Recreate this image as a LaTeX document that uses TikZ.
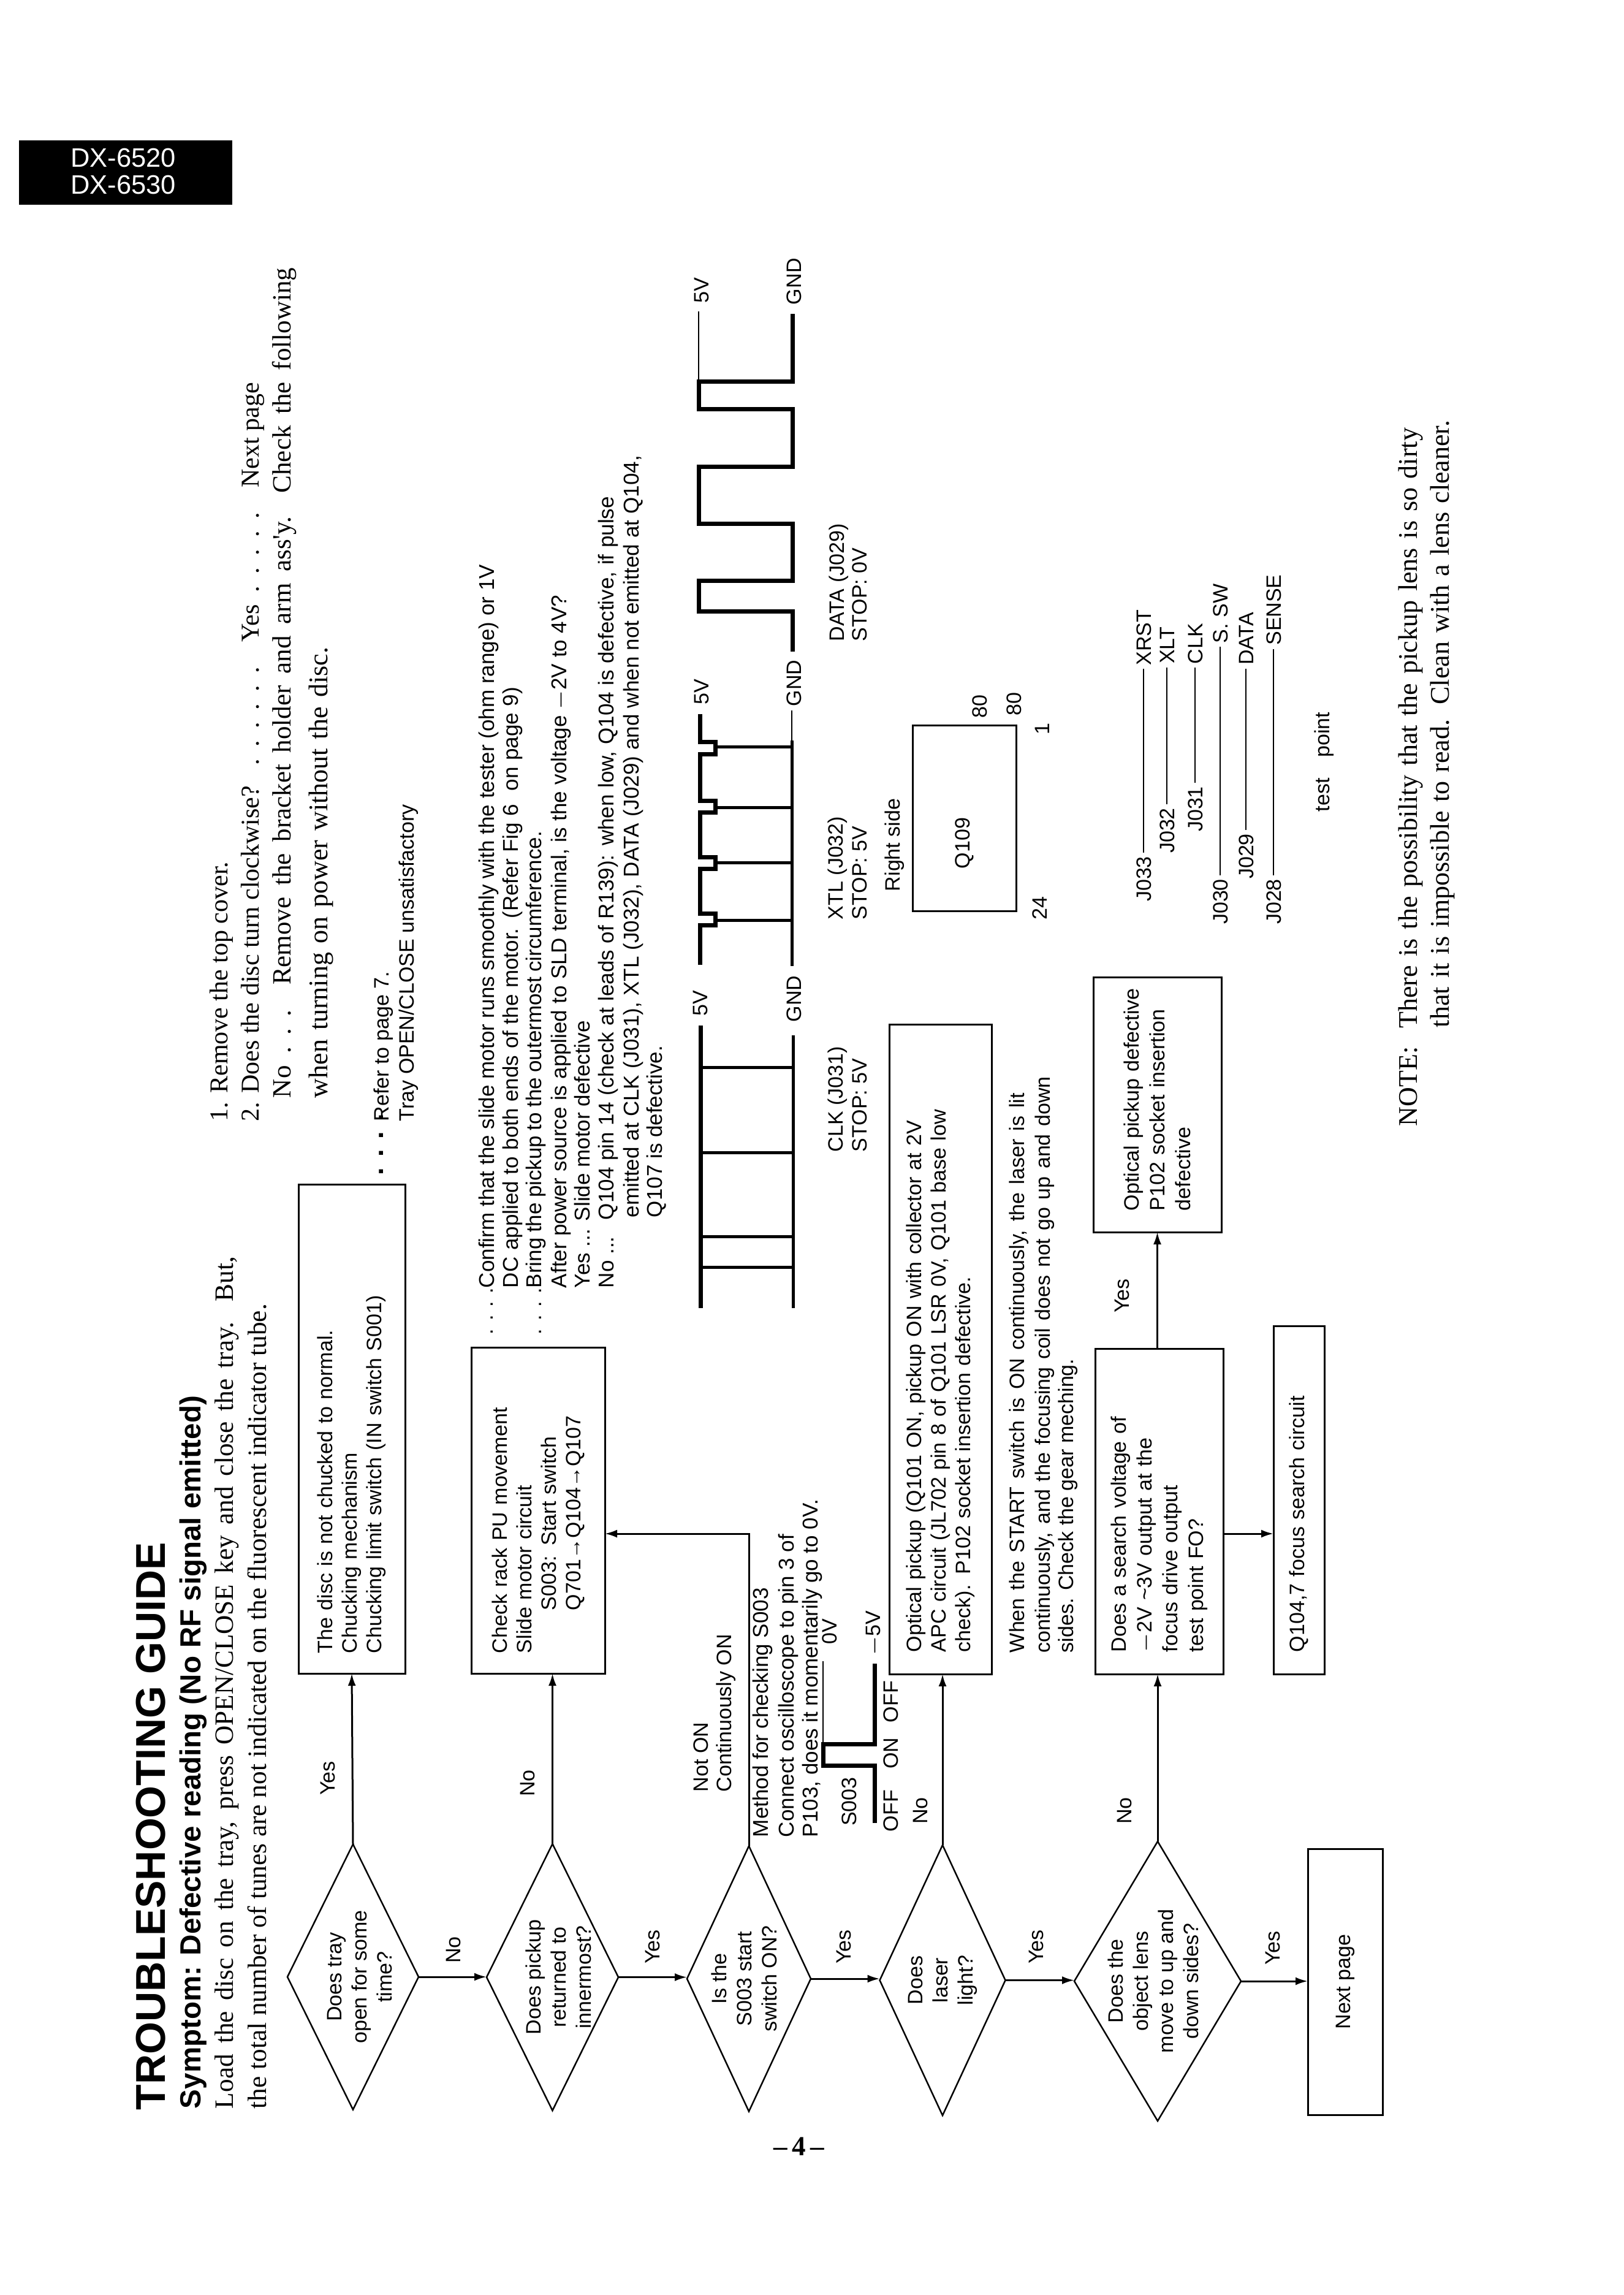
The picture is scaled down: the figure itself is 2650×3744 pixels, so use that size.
\documentclass[tikz,border=0pt]{standalone}
\usepackage{fontspec}
\usetikzlibrary{shapes.geometric,arrows.meta}
\newfontfamily\fsans{Liberation Sans}
\newfontfamily\fserif{Liberation Serif}
% Runs of leader dots of a given length, used in the serif check list
\newcommand{\dotrun}[1]{\hbox to #1{\leaders\hbox to 6pt{\hss.\hss}\hfill}}
\tikzset{
  lbl/.style={rotate=90,anchor=west,inner sep=0pt,text height=4.9pt,text depth=0pt,
    font=\fsans\fontsize{6.8}{8}\selectfont},
  lblwide/.style={lbl,font=\fsans\fontsize{7}{8}\selectfont},
  serifline/.style={rotate=90,anchor=west,inner sep=0pt,text height=5.6pt,text depth=0pt,
    font=\fserif\fontsize{8.8}{10}\selectfont},
  tp/.style={lbl,inner sep=1pt,anchor=center},
  stepbox/.style={draw,rotate=90,line width=.6pt,outer sep=0pt,inner ysep=0pt,align=left,
    font=\fsans\fontsize{6.8}{8}\selectfont},
  decision/.style={draw,diamond,aspect=2,rotate=90,line width=.5pt,outer sep=0pt,inner sep=-5pt,
    align=center,font=\fsans\fontsize{6.8}{8.2}\selectfont},
  arr/.style={line width=.6pt,-{Latex[length=4pt,width=2.6pt]}},
  link/.style={line width=.45pt},
  wavebold/.style={line width=1.4pt,line join=miter},
  wavemid/.style={line width=1pt,line join=miter},
  wavethin/.style={line width=.5pt}
}
\begin{document}
\begin{tikzpicture}[x=0.2pt,y=-0.2pt]
\useasboundingbox (0,0) rectangle (2650,3744);
\fill[white] (0,0) rectangle (2650,3744);

% model plate
\fill[black] (31,229) rectangle (379,334);
\node[inner sep=0pt,anchor=base,text=white,font=\fsans\fontsize{8.7}{10}\selectfont] (modelA) at (201,273) {DX-6520};
\node[inner sep=0pt,anchor=base,text=white,font=\fsans\fontsize{8.7}{10}\selectfont] (modelB) at (201,317) {DX-6530};

% heading block
\node[lbl,text height=9.8pt,font=\fsans\bfseries\fontsize{13.6}{15}\selectfont] (title) at (244.5,3443) {TROUBLESHOOTING GUIDE};
\node[lbl,text height=6.8pt,font=\fsans\bfseries\fontsize{9.5}{11}\selectfont] (symptom) at (310,3441) {Symptom: Defective reading (No RF signal emitted)};
\node[serifline,font=\fserif\fontsize{8.65}{10}\selectfont,text height=5.6pt] (introA) at (366,3441) {\makebox[278pt][s]{Load the disc on the tray, press OPEN/CLOSE key and close the tray. But,}};
\node[serifline,font=\fserif\fontsize{8.65}{10}\selectfont,text height=5.6pt] (introB) at (420,3441) {the total number of tunes are not indicated on the fluorescent indicator tube.};

% serif check list, top right of the page
\node[serifline,font=\fserif\fontsize{8.4}{10}\selectfont] (listA) at (357,1830) {1. Remove the top cover.};
\node[serifline,font=\fserif\fontsize{8.4}{10}\selectfont] (listB) at (408,1830) {\makebox[241pt][l]{2. Does the disc turn clockwise?\hfill\dotrun{40pt}\ Yes \dotrun{34pt}\ Next page}};
\node[serifline,font=\fserif\fontsize{8.6}{10}\selectfont] (listC) at (460,1792) {\makebox[270pt][l]{No \dotrun{22pt}\ \makebox[234pt][s]{Remove the bracket holder and arm ass'y. Check the following}}};
\node[serifline] (listD) at (520,1792) {\makebox[147pt][s]{when turning on power without the disc.}};

% chucking note
\node[lbl] (referDots) at (613,1918) {\bfseries\fontsize{9}{10}\selectfont . . . .};
\node[lbl] (referA) at (622,1830) {Refer to page 7.};
\node[lbl] (referB) at (663,1830) {Tray OPEN/CLOSE unsatisfactory};

% slide motor note
\node[lbl] (confDotsA) at (792,2178) {. . . .};
\node[lbl] (confDotsB) at (871,2178) {. . . .};
\node[lblwide] (confA) at (794,2102) {\makebox[236pt][s]{Confirm that the slide motor runs smoothly with the tester (ohm range) or 1V}};
\node[lblwide] (confB) at (833,2102) {\makebox[196pt][s]{DC applied to both ends of the motor. (Refer Fig 6\ \ on page 9)}};
\node[lblwide] (confC) at (871,2102) {\makebox[149pt][s]{Bring the pickup to the outermost circumference.}};
\node[lblwide] (confD) at (912,2102) {\makebox[226pt][s]{After power source is applied to SLD terminal, is the voltage $-$2V to 4V?}};
\node[lblwide] (confE) at (950,2102) {Yes ... Slide motor defective};
\node[lblwide] (confF) at (989,2102) {No ...};
\node[lblwide] (confG) at (989,1991) {\makebox[236pt][s]{Q104 pin 14 (check at leads of R139): when low, Q104 is defective, if pulse}};
\node[lblwide] (confH) at (1030,1987) {\makebox[248.6pt][s]{emitted at CLK (J031), XTL (J032), DATA (J029) and when not emitted at Q104,}};
\node[lblwide] (confI) at (1068,1987) {Q107 is defective.};

% decisions
\node[decision,minimum width=86.6pt,minimum height=42.8pt] (d1) at (576,3225) {\rule{0pt}{9pt}Does tray\\open for some\\time?};
\node[decision,minimum width=87pt,minimum height=43pt] (d2) at (901.5,3225.5) {\rule{0pt}{9pt}Does pickup\\returned to\\innermost?};
\node[decision,minimum width=86.6pt,minimum height=40.4pt] (d3) at (1222,3228) {Is the\\S003 start\\switch ON?\rule[-3pt]{0pt}{3pt}};
\node[decision,minimum width=88.2pt,minimum height=41pt] (d4) at (1538,3230.5) {Does\\laser\\light?};
\node[decision,minimum width=91.2pt,minimum height=54.4pt] (d5) at (1889,3232) {Does the\\object lens\\move to up and\\down sides?\rule[-3pt]{0pt}{3pt}};

% action boxes
\node[stepbox,minimum width=159.6pt,minimum height=34.8pt,inner xsep=6.6pt,text width=146.4pt] (b1) at (574,2331)
  {The disc is not chucked to normal.\\Chucking mechanism\\Chucking limit switch (IN switch S001)};
\node[stepbox,minimum width=106.4pt,minimum height=43.6pt,inner xsep=6.6pt,text width=93.2pt] (b2) at (878,2464)
  {Check rack PU movement\\Slide motor circuit\\\hspace*{14pt}S003: Start switch\\\hspace*{14pt}Q701→Q104→Q107};
\node[stepbox,minimum width=212pt,minimum height=33.4pt,inner xsep=7.2pt,text width=197.6pt] (b3) at (1534.5,2201)
  {\makebox[192pt][s]{Optical pickup (Q101 ON, pickup ON with collector at 2V}\\\makebox[180.5pt][s]{APC circuit (JL702 pin 8 of Q101 LSR 0V, Q101 base low}\\check). P102 socket insertion defective.};
\node[stepbox,minimum width=106.2pt,minimum height=41.8pt,inner xsep=7.2pt,text width=91.8pt,font=\fsans\fontsize{6.8}{8.4}\selectfont] (b4) at (1891.5,2465.5)
  {Does a search voltage of\\$-$2V \textasciitilde 3V output at the\\focus drive output\\test point FO?};
\node[stepbox,minimum width=113.6pt,minimum height=16.6pt,inner xsep=7.2pt,text width=99.2pt] (b5) at (2119.5,2447)
  {Q104,7 focus search circuit};
\node[stepbox,minimum width=83.2pt,minimum height=41.8pt,inner xsep=7pt,text width=69.2pt,font=\fsans\fontsize{6.8}{8.4}\selectfont] (b6) at (1888.5,1802)
  {\mbox{Optical pickup defective}\\P102 socket insertion\\defective};
\node[stepbox,minimum width=86.8pt,minimum height=24.4pt,align=center] (next) at (2195,3233) {Next page};

% branch labels
\node[lbl,anchor=center] (yesA) at (534,2901) {Yes};
\node[lbl,anchor=center] (noA) at (739,3181) {No};
\node[lbl,anchor=center] (noB) at (860,2909) {No};
\node[lbl,anchor=center] (yesB) at (1064,3176) {Yes};
\node[lbl,anchor=center] (yesC) at (1376,3176) {Yes};
\node[lbl,anchor=center] (noC) at (1501,2954) {No};
\node[lbl,anchor=center] (yesD) at (1690,3176) {Yes};
\node[lbl,anchor=center] (noD) at (1834,2954) {No};
\node[lbl,anchor=center] (yesE) at (2076,3178) {Yes};
\node[lbl,anchor=center] (yesF) at (1830,2114) {Yes};
\node[lbl] (notOnA) at (1143,2924) {Not ON};
\node[lbl] (notOnB) at (1181,2924) {Continuously ON};

% flow connectors
\coordinate (railY) at (0,2502);
\draw[arr] (d1.east) -- (b1.west);
\draw[arr] (d1.south) -- (d2.north |- d1.south);
\draw[arr] (d2.east) -- (d2.east |- b2.west);
\draw[arr] (d2.south) -- (d3.north |- d2.south);
\draw[arr] (d3.east) |- (b2.south |- railY);
\draw[arr] (d3.south) -- (d4.north |- d3.south);
\draw[arr] (d4.east) -- (d4.east |- b3.west);
\draw[arr] (d4.south) -- (d5.north |- d4.south);
\draw[arr] (d5.east) -- (d5.east |- b4.west);
\draw[arr] (d5.south) -- (next.north |- d5.south);
\draw[arr] (b6.west |- b4.east) -- (b6.west);
\draw[arr] (b4.south |- railY) -- (b5.north |- railY);

% S003 check note and its switch trace
\node[lblwide] (methodA) at (1241,2998) {Method for checking S003};
\node[lblwide] (methodB) at (1283,2998) {Connect oscilloscope to pin 3 of};
\node[lblwide] (methodC) at (1322,2998) {P103, does it momentarily go to 0V.};
\node[lbl,anchor=center] (zeroV) at (1353,2662) {0V};
\node[lbl,anchor=center] (minusV) at (1424,2664) {$-$5V};
\node[lbl,anchor=center] (swName) at (1385,2939) {S003};
\node[lbl,anchor=center] (swOffA) at (1453,2954) {OFF};
\node[lbl,anchor=center] (swOn) at (1453,2860) {ON};
\node[lbl,anchor=center] (swOffB) at (1453,2776) {OFF};
\draw[wavebold] (1427,2974) -- (1427,2880) -- (1343,2880) -- (1343,2845) -- (1427,2845) -- (1427,2714);
\draw[wavethin] (1343,2845) -- (1343,2710);

% laser and focus notes
\node[lbl] (startA) at (1659,2697) {\makebox[182.6pt][s]{When the START switch is ON continuously, the laser is lit}};
\node[lbl] (startB) at (1701,2697) {\makebox[188pt][s]{continuously, and the focusing coil does not go up and down}};
\node[lbl] (startC) at (1739,2697) {sides. Check the gear meching.};

% CLK trace
\draw[wavebold] (1143,2134) -- (1143,1673);
\draw[wavemid] (1294,2134) -- (1294,1689);
\foreach \rungY in {2067,2017,1880,1741} \draw[wavemid] (1143,\rungY) -- (1294,\rungY);
\node[lbl] (clkHigh) at (1142,1658) {5V};
\node[lbl] (clkLow) at (1295,1668) {GND};
\node[lbl] (clkName) at (1363,1880) {CLK (J031)};
\node[lbl] (clkStop) at (1402,1880) {STOP: 5V};

% XTL trace: each pulse has a short step before its rung
\draw[wavebold] (1142,1574) -- (1142,1509) -- (1167,1509) -- (1167,1490) -- (1142,1490) -- (1142,1417) -- (1167,1417) -- (1167,1398) -- (1142,1398) -- (1142,1325) -- (1167,1325) -- (1167,1306) -- (1142,1306) -- (1142,1230) -- (1167,1230) -- (1167,1210) -- (1142,1210) -- (1142,1165);
\foreach \rungY in {1501,1407,1317,1218} \draw[wavemid] (1167,\rungY) -- (1292,\rungY);
\draw[wavemid] (1292,1576) -- (1292,1208);
\draw[wavethin] (1292,1208) -- (1292,1159);
\node[lbl] (xtlHigh) at (1144,1150) {5V};
\node[lbl] (xtlLow) at (1295,1153) {GND};
\node[lbl] (xtlName) at (1363,1501) {XTL (J032)};
\node[lbl] (xtlStop) at (1402,1501) {STOP: 5V};

% DATA trace
\draw[wavebold] (1293,1063) -- (1293,997) -- (1140,997) -- (1140,947) -- (1293,947) -- (1293,854) -- (1140,854) -- (1140,761) -- (1293,761) -- (1293,667) -- (1140,667) -- (1140,622) -- (1293,622) -- (1293,512);
\draw[wavethin] (1140,622) -- (1140,508);
\node[lbl] (dataHigh) at (1144,495) {5V};
\node[lbl] (dataLow) at (1295,498) {GND};
\node[lbl] (dataName) at (1365,1047) {DATA (J029)};
\node[lbl] (dataStop) at (1402,1047) {STOP: 0V};

% Q109 outline
\node[lbl] (rightSide) at (1456,1455) {Right side};
\node[stepbox,minimum width=60.6pt,minimum height=33.8pt,inner xsep=13.8pt,text width=33pt] (q109) at (1573.5,1334.5) {Q109};
\node[lbl] (pinA) at (1598,1172) {80};
\node[lbl] (pinB) at (1654,1168) {80};
\node[lbl,anchor=center] (pinC) at (1700,1189) {1};
\node[lbl] (pinD) at (1696,1501) {24};

% test point list
\node[tp] (j33) at (1866,1434) {J033};
\node[tp] (sXRST) at (1866,1040) {XRST};
\node[tp] (j32) at (1904,1355) {J032};
\node[tp] (sXLT) at (1904,1053) {XLT};
\node[tp] (j31) at (1950,1320) {J031};
\node[tp] (sCLK) at (1950,1050) {CLK};
\node[tp] (j30) at (1991,1471) {J030};
\node[tp] (sSW) at (1991,1001) {S. SW};
\node[tp] (j29) at (2033,1397) {J029};
\node[tp] (sDATA) at (2033,1042) {DATA};
\node[tp] (j28) at (2078,1471) {J028};
\node[tp] (sSENSE) at (2078,995) {SENSE};
\draw[link] (j33) -- (sXRST);
\draw[link] (j32) -- (sXLT);
\draw[link] (j31) -- (sCLK);
\draw[link] (j30) -- (sSW);
\draw[link] (j29) -- (sDATA);
\draw[link] (j28) -- (sSENSE);
\node[lbl] (testPoint) at (2157,1325) {\makebox[32.4pt][s]{test point}};

% closing note
\node[serifline] (noteA) at (2298,1838) {\makebox[227.8pt][s]{NOTE:\ \ There is the possibility that the pickup lens is so dirty}};
\node[serifline] (noteB) at (2350,1677) {\makebox[198pt][s]{that it is impossible to read. Clean with a lens cleaner.}};

% page number
\node[inner sep=0pt,font=\fserif\bfseries\fontsize{9}{10}\selectfont] (pageNo) at (1304,3502) {–\,4\,–};
\end{tikzpicture}
\end{document}
